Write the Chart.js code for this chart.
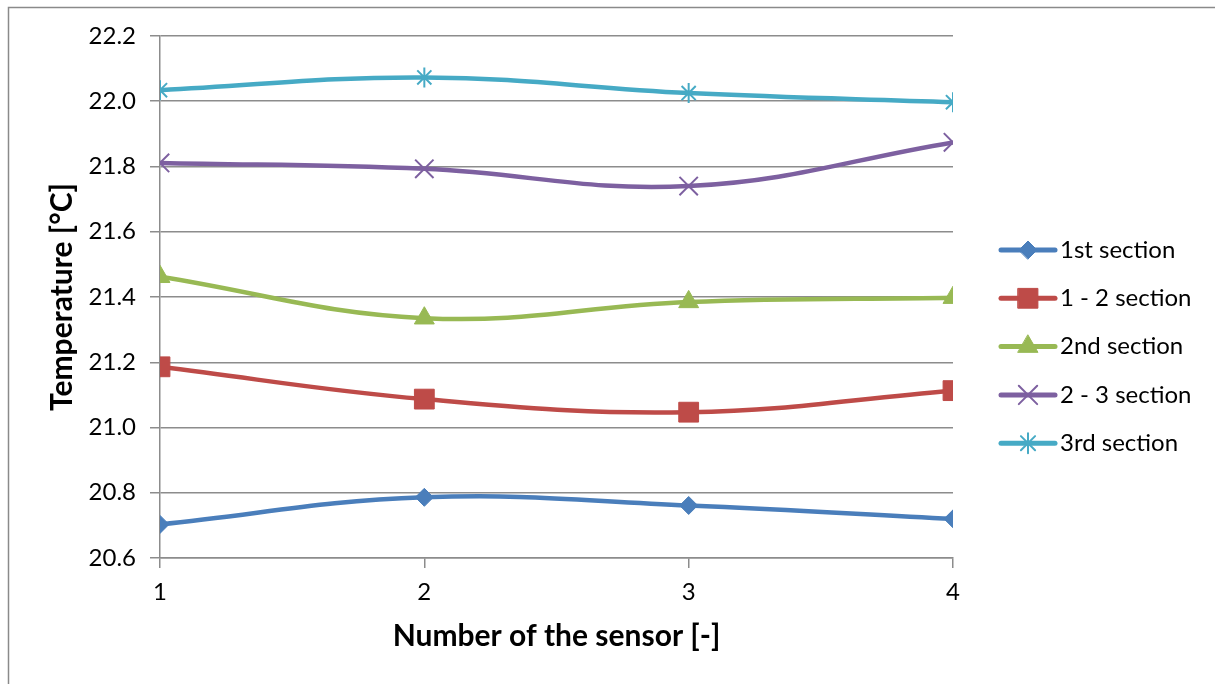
<!DOCTYPE html>
<html lang="en">
<head>
  <meta charset="UTF-8">
  <title>Temperature per sensor</title>
  <script src="https://cdn.jsdelivr.net/npm/chart.js"></script>
  <style>
    html, body { margin: 0; padding: 0; background: #fff; overflow: hidden; }
    #wrap { width: 1215px; height: 684px; position: relative; }
    canvas { display: block; }
  </style>
</head>
<body>
  <div id="wrap"><canvas id="chart" width="1215" height="684"></canvas></div>

  <script>
    // values
    var sensors = [1, 2, 3, 4];
    var sec1 = [20.703, 20.786, 20.761, 20.720];
    var sec12 = [21.186, 21.087, 21.047, 21.113];
    var sec2 = [21.462, 21.335, 21.385, 21.398];
    var sec23 = [21.811, 21.793, 21.740, 21.874];
    var sec3 = [22.034, 22.073, 22.025, 21.997];
    var seriesNames = ['1st section', '1 - 2 section', '2nd section', '2 - 3 section', '3rd section'];
    var yMin = 20.6, yMax = 22.2, yStep = 0.2;

    var FONT = 'Lato, "Open Sans", sans-serif';
    var GRID = '#8c8c8c';

    function pts(vals) {
      return sensors.map(function (s, i) { return { x: s, y: vals[i] }; });
    }

    var styles = [
      { color: '#4a7ebb', shape: 'rectRot', r: 9, bw: 1 },
      { color: '#be4b48', shape: 'rect', r: 14, bw: 1 },
      { color: '#98b954', shape: 'triangle', r: 11.5, bw: 1 },
      { color: '#7d60a0', shape: 'crossRot', r: 13, bw: 2 },
      { color: '#46aac5', shape: 'star', r: 10, bw: 2 }
    ];
    var values = [sec1, sec12, sec2, sec23, sec3];

    var datasets = values.map(function (v, i) {
      var st = styles[i];
      return {
        label: seriesNames[i],
        data: pts(v),
        borderColor: st.color,
        backgroundColor: st.color,
        borderWidth: 4.5,
        tension: 0.4,
        pointStyle: st.shape,
        pointRadius: st.r,
        pointHoverRadius: st.r,
        pointBorderWidth: st.bw,
        pointBackgroundColor: st.color,
        pointBorderColor: st.color,
        order: 5 - i
      };
    });

    // white background + outer frame (only left and top edges are in view)
    var framePlugin = {
      id: 'frame',
      beforeDraw: function (chart) {
        var ctx = chart.ctx;
        ctx.save();
        ctx.fillStyle = '#fff';
        ctx.fillRect(0, 0, chart.width, chart.height);
        ctx.strokeStyle = '#8a8a8a';
        ctx.lineWidth = 1.5;
        ctx.beginPath();
        ctx.moveTo(8.5, 684);
        ctx.lineTo(8.5, 7.5);
        ctx.lineTo(1215, 7.5);
        ctx.stroke();
        ctx.restore();
      }
    };

    // legend with a line segment and the marker on it
    var legendPlugin = {
      id: 'lineLegend',
      afterDraw: function (chart) {
        var ctx = chart.ctx;
        var x0 = 1001, x1 = 1055, top = 250, gap = 48.3;
        ctx.save();
        chart.data.datasets.forEach(function (ds, i) {
          var y = top + i * gap;
          ctx.strokeStyle = ds.borderColor;
          ctx.lineWidth = 5;
          ctx.lineCap = 'round';
          ctx.beginPath();
          ctx.moveTo(x0, y);
          ctx.lineTo(x1, y);
          ctx.stroke();
          ctx.fillStyle = ds.pointBackgroundColor;
          ctx.strokeStyle = ds.pointBorderColor;
          ctx.lineWidth = ds.pointBorderWidth;
          Chart.helpers.drawPoint(ctx, { pointStyle: ds.pointStyle, radius: ds.pointRadius, rotation: 0, borderWidth: ds.pointBorderWidth }, (x0 + x1) / 2, y);
          ctx.fillStyle = '#000';
          ctx.font = '24px ' + FONT;
          ctx.textBaseline = 'middle';
          ctx.textAlign = 'left';
          ctx.fillText(ds.label, 1060, y);
        });
        ctx.restore();
      }
    };

    new Chart(document.getElementById('chart'), {
      type: 'line',
      data: { datasets: datasets },
      plugins: [framePlugin, legendPlugin],
      options: {
        responsive: false,
        animation: false,
        layout: { padding: { left: 10, top: 36, right: 262, bottom: 10 } },
        plugins: {
          legend: { display: false },
          tooltip: { enabled: false }
        },
        scales: {
          x: {
            type: 'linear',
            min: 1,
            max: 4,
            afterFit: function (s) { s.height = 116; },
            ticks: {
              stepSize: 1,
              color: '#000',
              padding: 10,
              font: { family: FONT, size: 24 }
            },
            grid: {
              drawOnChartArea: false,
              drawTicks: true,
              tickLength: 10,
              color: GRID,
              lineWidth: 1.5
            },
            border: { color: GRID, width: 1.5 },
            title: {
              display: true,
              text: 'Number of the sensor [-]',
              color: '#000',
              font: { family: FONT, size: 30, weight: 'bold' },
              padding: { top: 0, bottom: 20 }
            }
          },
          y: {
            min: yMin,
            max: yMax,
            afterFit: function (s) { s.width = 150; },
            ticks: {
              stepSize: yStep,
              color: '#000',
              padding: 14,
              font: { family: FONT, size: 24 },
              callback: function (v) { return v.toFixed(1); }
            },
            grid: {
              color: GRID,
              lineWidth: 1.5,
              tickLength: 10
            },
            border: { color: GRID, width: 1.5 },
            title: {
              display: true,
              text: 'Temperature [°C]',
              color: '#000',
              font: { family: FONT, size: 30, weight: 'bold' },
              padding: { top: 34, bottom: 0 }
            }
          }
        }
      }
    });
  </script>
</body>
</html>
